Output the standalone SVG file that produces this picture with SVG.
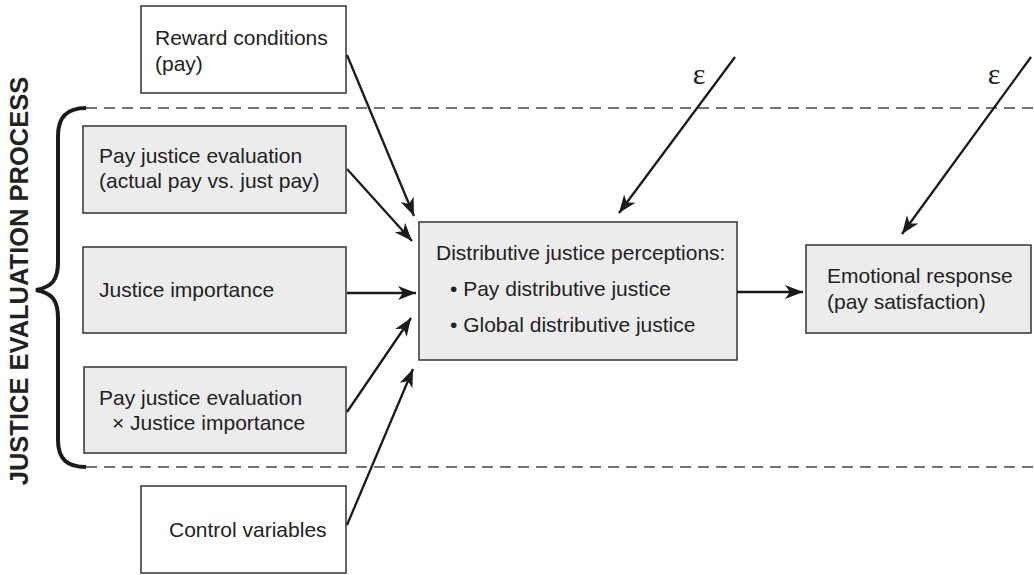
<svg xmlns="http://www.w3.org/2000/svg" width="1034" height="575" viewBox="0 0 1034 575">
<style>
.box{stroke:#333;stroke-width:1.5}
.shade{fill:#ececec}
.plain{fill:#fff}
.t{font-family:"Liberation Sans",Arial,sans-serif;font-size:21px;fill:#222}
.eps{font-family:"Liberation Serif","Times New Roman",serif;font-size:30px;fill:#222}
.conn{stroke:#1a1a1a;stroke-width:2.3;fill:none;marker-end:url(#ah)}
.dash{stroke:#444;stroke-width:1.3;stroke-dasharray:11 7;fill:none}
</style>
<defs>
<marker id="ah" markerUnits="userSpaceOnUse" markerWidth="20" markerHeight="16" refX="18" refY="7" orient="auto">
<path d="M0,0 L18,7 L0,14 L5,7 z" fill="#1a1a1a"/>
</marker>
</defs>
<rect width="1034" height="575" fill="#fff"/>
<g id="frame">
<line class="dash" x1="86" y1="108" x2="1034" y2="108"/>
<line class="dash" x1="86" y1="467" x2="1034" y2="467"/>
<path d="M86,108 C68,108 58,116 58,136 L58,262 C58,280 52,287 36,290 C52,293 58,300 58,318 L58,440 C58,460 68,467 86,467" fill="none" stroke="#1a1a1a" stroke-width="4"/>
<text transform="translate(28,281) rotate(-90)" text-anchor="middle" style="font-family:'Liberation Sans',Arial,sans-serif;font-size:25.5px;font-weight:bold;fill:#222">JUSTICE EVALUATION PROCESS</text>
</g>
<g id="reward">
<rect class="box plain" x="141" y="6" width="205" height="87"/>
<text class="t" x="155" y="45">Reward conditions</text>
<text class="t" x="155" y="71">(pay)</text>
</g>
<g id="payeval">
<rect class="box shade" x="83" y="126" width="263" height="87"/>
<text class="t" x="99" y="163">Pay justice evaluation</text>
<text class="t" x="99" y="188">(actual pay vs. just pay)</text>
</g>
<g id="importance">
<rect class="box shade" x="83" y="247" width="263" height="86"/>
<text class="t" x="99" y="297">Justice importance</text>
</g>
<g id="interaction">
<rect class="box shade" x="84" y="367" width="262" height="86"/>
<text class="t" x="99" y="405">Pay justice evaluation</text>
<text class="t" x="112" y="430">× Justice importance</text>
</g>
<g id="control">
<rect class="box plain" x="141" y="486" width="205" height="87"/>
<text class="t" x="169" y="537">Control variables</text>
</g>
<g id="distributive">
<rect class="box shade" x="419" y="222" width="318" height="138"/>
<text class="t" x="436" y="260">Distributive justice perceptions:</text>
<text class="t" x="450" y="296">• Pay distributive justice</text>
<text class="t" x="450" y="332">• Global distributive justice</text>
</g>
<g id="emotional">
<rect class="box shade" x="806" y="245" width="225" height="88"/>
<text class="t" x="827" y="283">Emotional response</text>
<text class="t" x="827" y="309">(pay satisfaction)</text>
</g>
<g id="errors">
<text class="eps" x="699" y="84" text-anchor="middle">ε</text>
<text class="eps" x="994" y="84" text-anchor="middle">ε</text>
</g>
<g id="connectors">
<line class="conn" x1="347" y1="55" x2="414" y2="216"/>
<line class="conn" x1="347" y1="169" x2="412" y2="241"/>
<line class="conn" x1="347" y1="293" x2="416" y2="293"/>
<line class="conn" x1="347" y1="412" x2="411" y2="318"/>
<line class="conn" x1="347" y1="525" x2="413" y2="369"/>
<line class="conn" x1="735" y1="57" x2="619" y2="213"/>
<line class="conn" x1="1031" y1="57" x2="902" y2="234"/>
<line class="conn" x1="737" y1="292" x2="803" y2="292"/>
</g>
</svg>
